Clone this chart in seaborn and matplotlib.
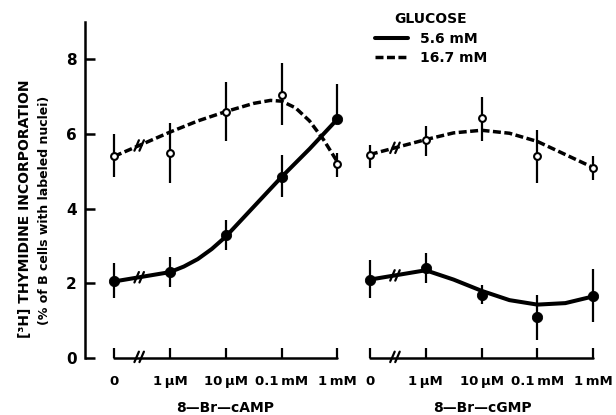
import numpy as np
import matplotlib
matplotlib.use("Agg")
import matplotlib.pyplot as plt
import seaborn as sns

sns.set_theme(style="white")
plt.rcParams['font.family'] = ['DejaVu Sans']
plt.rcParams['font.weight'] = 'bold'
plt.rcParams['text.color'] = 'black'
plt.rcParams['xtick.color'] = 'black'
plt.rcParams['ytick.color'] = 'black'

# dose levels (same for both panels)
dose_labels = ["0", "1\u2009µM", "10\u2009µM", "0.1\u2009mM", "1\u2009mM"]
dose_pos = [0, 1, 2, 3, 4]

# 8-Br-cAMP, glucose 5.6 mM (filled)
camp_low = [2.05, 2.3, 3.3, 4.85, 6.4]
camp_low_lo = [1.6, 1.9, 2.9, 4.3, 6.4]
camp_low_hi = [2.55, 2.7, 3.7, 5.45, 7.35]
# 8-Br-cAMP, glucose 16.7 mM (open)
camp_high = [5.4, 5.5, 6.6, 7.05, 5.2]
camp_high_lo = [4.85, 4.7, 5.8, 6.25, 4.85]
camp_high_hi = [6.0, 6.3, 7.4, 7.9, 5.5]

# 8-Br-cGMP, glucose 5.6 mM (filled)
cgmp_low = [2.1, 2.4, 1.7, 1.1, 1.65]
cgmp_low_lo = [1.62, 2.0, 1.45, 0.48, 0.97]
cgmp_low_hi = [2.62, 2.8, 1.95, 1.7, 2.38]
# 8-Br-cGMP, glucose 16.7 mM (open)
cgmp_high = [5.44, 5.84, 6.43, 5.4, 5.08]
cgmp_high_lo = [5.1, 5.4, 5.8, 4.7, 4.78]
cgmp_high_hi = [5.7, 6.22, 6.98, 6.12, 5.4]

# hand-drawn fitted curves
camp_low_cx = [0, 1, 1.25, 1.5, 1.75, 2, 2.5, 3, 3.5, 4]
camp_low_cy = [2.05, 2.3, 2.45, 2.65, 2.92, 3.25, 4.05, 4.85, 5.6, 6.4]
camp_high_cx = [0, 1, 1.5, 2, 2.5, 2.8, 3.0, 3.25, 3.5, 3.75, 4]
camp_high_cy = [5.4, 6.05, 6.35, 6.6, 6.82, 6.9, 6.88, 6.7, 6.35, 5.85, 5.25]
cgmp_low_cx = [0, 1, 1.5, 2, 2.5, 3, 3.5, 4]
cgmp_low_cy = [2.1, 2.35, 2.1, 1.8, 1.55, 1.43, 1.47, 1.65]
cgmp_high_cx = [0, 1, 1.5, 2, 2.5, 3, 3.5, 4]
cgmp_high_cy = [5.45, 5.85, 6.03, 6.1, 6.02, 5.8, 5.45, 5.1]

panel_offset = [0.0, 4.58]
break_at = 0.45

fig = plt.figure(figsize=(6.16, 4.15), dpi=100)
ax = fig.add_axes([85 / 616, 57 / 415, 525 / 616, 336 / 415])
ax.set_xlim(-0.52, 8.88)
ax.set_ylim(0, 9)

dash = (2.3, 1.0)


def slash(xb, yb):
    for dx in (-0.045, 0.045):
        ax.plot([xb + dx - 0.04, xb + dx + 0.04], [yb - 0.14, yb + 0.14],
                color='black', lw=1.6, clip_on=False, zorder=6)


panels = [
    (camp_low, camp_low_lo, camp_low_hi, camp_high, camp_high_lo, camp_high_hi,
     camp_low_cx, camp_low_cy, camp_high_cx, camp_high_cy),
    (cgmp_low, cgmp_low_lo, cgmp_low_hi, cgmp_high, cgmp_high_lo, cgmp_high_hi,
     cgmp_low_cx, cgmp_low_cy, cgmp_high_cx, cgmp_high_cy),
]

for off, (lo_m, lo_l, lo_h, hi_m, hi_l, hi_h, lcx, lcy, hcx, hcy) in zip(panel_offset, panels):
    x = np.array(dose_pos) + off
    # curves
    sns.lineplot(x=np.array(lcx) + off, y=lcy, sort=False, color='black', lw=2.9,
                 ax=ax, zorder=3, label='5.6 mM' if off == 0 else None)
    l2 = sns.lineplot(x=np.array(hcx) + off, y=hcy, sort=False, color='black', lw=2.5,
                      ax=ax, zorder=3, label='16.7 mM' if off == 0 else None)
    l2.lines[-1].set_dashes(dash)
    # error bars
    for m, l, h in [(lo_m, lo_l, lo_h), (hi_m, hi_l, hi_h)]:
        m = np.array(m)
        ax.errorbar(x, m, yerr=[m - np.array(l), np.array(h) - m], fmt='none',
                    ecolor='black', elinewidth=1.6, capsize=0, zorder=2)
    # markers
    sns.scatterplot(x=x, y=lo_m, color='black', s=55, edgecolor='black', ax=ax, zorder=5)
    sns.scatterplot(x=x, y=hi_m, color='white', s=24, edgecolor='black',
                    linewidth=1.5, ax=ax, zorder=5)
    # baseline with break
    ax.plot([off, off + 4], [0, 0], color='black', lw=1.8, clip_on=False, zorder=4)
    slash(off + break_at, 0.03)
    slash(off + break_at, np.interp(break_at, lcx, lcy))
    slash(off + break_at, np.interp(break_at, hcx, hcy))

# axes styling
for s in ['top', 'right', 'bottom']:
    ax.spines[s].set_visible(False)
ax.spines['left'].set_linewidth(1.8)
ax.spines['left'].set_color('black')
ax.set_yticks([0, 2, 4, 6, 8])
ax.set_yticklabels(['0', '2', '4', '6', '8'], fontsize=11, fontweight='bold')
ax.tick_params(axis='y', direction='in', length=7, width=1.8, pad=6, left=True)
ticks = list(np.array(dose_pos) + panel_offset[0]) + list(np.array(dose_pos) + panel_offset[1])
ax.set_xticks(ticks)
ax.set_xticklabels(dose_labels * 2, fontsize=9.5, fontweight='bold')
ax.tick_params(axis='x', direction='in', length=7, width=1.6, pad=12, bottom=True)
ax.set_xlabel('')
ax.set_ylabel('')

fig.text(225 / 616, 1 - 408 / 415, '8—Br—cAMP', ha='center', va='center',
         fontsize=10, fontweight='bold')
fig.text(482 / 616, 1 - 408 / 415, '8—Br—cGMP', ha='center', va='center',
         fontsize=10, fontweight='bold')
fig.text(25 / 616, 1 - 209 / 415, '[³H] THYMIDINE INCORPORATION', rotation=90,
         ha='center', va='center', fontsize=10, fontweight='bold')
fig.text(45 / 616, 1 - 210 / 415, '(% of B cells with labeled nuclei)', rotation=90,
         ha='center', va='center', fontsize=9, fontweight='bold')

leg = ax.legend(title='GLUCOSE', loc='upper center', bbox_to_anchor=(431 / 616, 1 - 12 / 415),
                bbox_transform=fig.transFigure, frameon=False, fontsize=10,
                handlelength=2.4, borderpad=0, borderaxespad=0, labelspacing=0.4)
leg.get_title().set_fontweight('bold')
leg.get_title().set_fontsize(10)
for t in leg.get_texts():
    t.set_fontweight('bold')

fig.savefig('out.png', dpi=100)
